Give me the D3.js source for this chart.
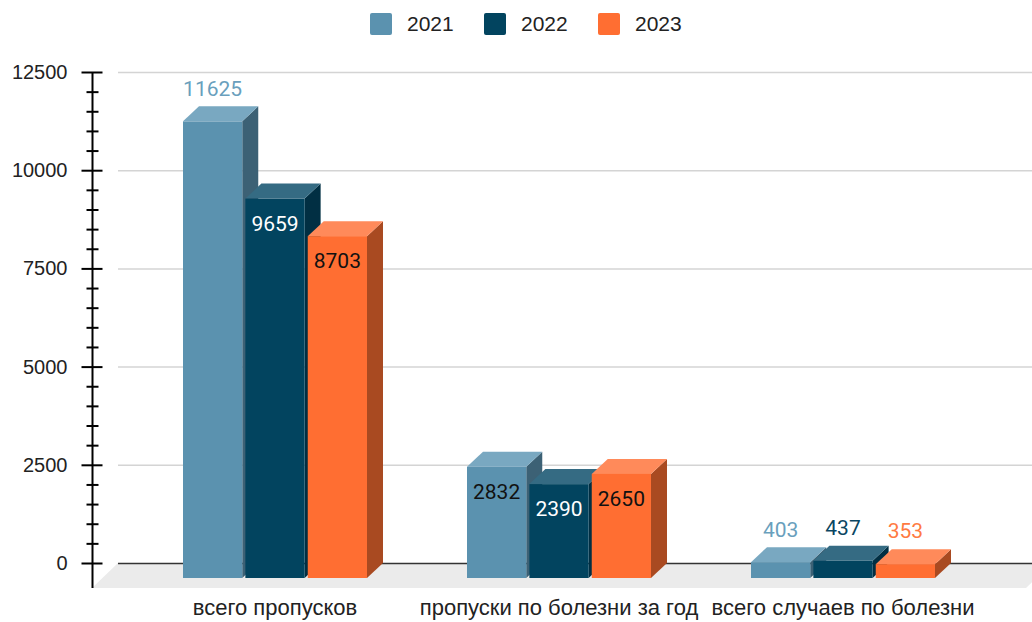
<!DOCTYPE html>
<html>
<head>
<meta charset="utf-8">
<script src="https://cdn.jsdelivr.net/npm/d3@7"></script>
<style>
  html, body { margin: 0; padding: 0; background: #fff; }
  svg { display: block; }
</style>
</head>
<body>
<svg id="chart" width="1032" height="622"></svg>
<script>
// Data
const categories = ["всего пропусков", "пропуски по болезни за год", "всего случаев по болезни"];
const years = ["2021", "2022", "2023"];
const values2021 = [11625, 2832, 403];
const values2022 = [9659, 2390, 437];
const values2023 = [8703, 2650, 353];
const yTicks = [0, 2500, 5000, 7500, 10000, 12500];

const seriesValues = [values2021, values2022, values2023];

// Colours: front, top, side, label
const palette = {
    "2021": { front: "#5b92af", top: "#79a8c1", side: "#3c6175", label: "#6a9fbd", inside: "#111" },
    "2022": { front: "#02445f", top: "#356b83", side: "#012f43", label: "#0a4662", inside: "#fff" },
    "2023": { front: "#ff6e32", top: "#ff8a5a", side: "#a94a21", label: "#ff7a42", inside: "#111" }
};

const width = 1032, height = 622;
const depthX = 16, depthY = 15;       // 3D offset
const backBase = 563, topY = 72;      // back plane y for 0 and 12500
const axisX = 92;
const sansFont = "Liberation Sans, Arial, sans-serif";

const svg = d3.select("#chart");

// Scales (back plane)
const y = d3.scaleLinear().domain([0, 12500]).range([backBase, topY]);
const yFront = v => y(v) + depthY;

const x0 = d3.scaleBand().domain(categories).range([133, 985]);
const groupWidth = 184;
const x1 = d3.scaleBand().domain(years).range([0, groupWidth]).paddingInner(0.05);

// Floor
svg.append("polygon")
    .attr("points", [[axisX, backBase + 25], [axisX + 26, backBase], [width + 20, backBase], [width - 6, backBase + 25]].map(p => p.join(",")).join(" "))
    .attr("fill", "#ebebeb");

// Gridlines
svg.append("g")
    .selectAll("line")
    .data(yTicks)
    .join("line")
    .attr("x1", axisX + 26)
    .attr("x2", width)
    .attr("y1", d => y(d) + 0.5)
    .attr("y2", d => y(d) + 0.5)
    .attr("stroke", d => d === 0 ? "#333" : "#d4d4d4")
    .attr("stroke-width", d => d === 0 ? 1.3 : 1.5);

// Y axis
const axisG = svg.append("g").attr("transform", `translate(${axisX + 0.5},0)`);
axisG.append("line")
    .attr("y1", topY).attr("y2", backBase + 25)
    .attr("stroke", "#000").attr("stroke-width", 2);

const minorTicks = d3.range(0, 12500, 500).filter(v => v % 2500 !== 0);
axisG.selectAll(".minor")
    .data(minorTicks)
    .join("line")
    .attr("class", "minor")
    .attr("x1", -6).attr("x2", 6)
    .attr("y1", d => y(d) + 0.5).attr("y2", d => y(d) + 0.5)
    .attr("stroke", "#000").attr("stroke-width", 2);

axisG.selectAll(".major")
    .data(yTicks)
    .join("line")
    .attr("class", "major")
    .attr("x1", -11).attr("x2", 10)
    .attr("y1", d => y(d) + 0.5).attr("y2", d => y(d) + 0.5)
    .attr("stroke", "#000").attr("stroke-width", 2);

axisG.selectAll(".tlabel")
    .data(yTicks)
    .join("text")
    .attr("class", "tlabel")
    .attr("x", -25)
    .attr("y", d => y(d))
    .attr("dy", "0.35em")
    .attr("text-anchor", "end")
    .attr("font-family", sansFont)
    .attr("font-size", 20)
    .attr("fill", "#222")
    .text(d => d);

// Bars
const maxValue = d3.max(seriesValues.flat());
const barsG = svg.append("g");
const labels = [];

categories.forEach((cat, ci) => {
    years.forEach((yr, si) => {
        const v = seriesValues[si][ci];
        const c = palette[yr];
        const bx = x0(cat) + (x0.bandwidth() - groupWidth) / 2 + x1(yr);
        const bw = x1.bandwidth();
        const yt = yFront(v);
        const yb = yFront(0);
        const g = barsG.append("g");

        // side
        g.append("polygon")
            .attr("points", [[bx + bw, yt], [bx + bw + depthX, yt - depthY], [bx + bw + depthX, yb - depthY], [bx + bw, yb]].map(p => p.join(",")).join(" "))
            .attr("fill", c.side);
        // top
        g.append("polygon")
            .attr("points", [[bx, yt], [bx + depthX, yt - depthY], [bx + bw + depthX, yt - depthY], [bx + bw, yt]].map(p => p.join(",")).join(" "))
            .attr("fill", c.top);
        // front
        g.append("rect")
            .attr("x", bx).attr("y", yt)
            .attr("width", bw).attr("height", yb - yt)
            .attr("fill", c.front);

        const inside = v < maxValue && (yb - yt) > 50;
        labels.push({
            x: bx + bw / 2,
            y: inside ? yt + 25 : yt - 33,
            text: v,
            fill: inside ? c.inside : c.label
        });
    });
});

svg.append("g")
    .selectAll("text")
    .data(labels)
    .join("text")
    .attr("x", d => d.x)
    .attr("y", d => d.y)
    .attr("dy", "0.35em")
    .attr("text-anchor", "middle")
    .attr("font-family", "Roboto, sans-serif")
    .attr("font-size", 21)
    .attr("fill", d => d.fill)
    .text(d => d.text);

// Category labels
svg.append("g")
    .selectAll("text")
    .data(categories)
    .join("text")
    .attr("x", d => x0(d) + x0.bandwidth() / 2)
    .attr("y", 615)
    .attr("text-anchor", "middle")
    .attr("font-family", sansFont)
    .attr("font-size", 22)
    .attr("fill", "#222")
    .text(d => d);

// Legend
const legend = svg.append("g")
    .selectAll("g")
    .data(years)
    .join("g")
    .attr("transform", (d, i) => `translate(${370 + i * 114}, 13)`);

legend.append("rect")
    .attr("width", 22).attr("height", 22)
    .attr("rx", 2)
    .attr("fill", d => palette[d].front);

legend.append("text")
    .attr("x", 37)
    .attr("y", 11)
    .attr("dy", "0.35em")
    .attr("font-family", sansFont)
    .attr("font-size", 21)
    .attr("fill", "#222")
    .text(d => d);
</script>
</body>
</html>
